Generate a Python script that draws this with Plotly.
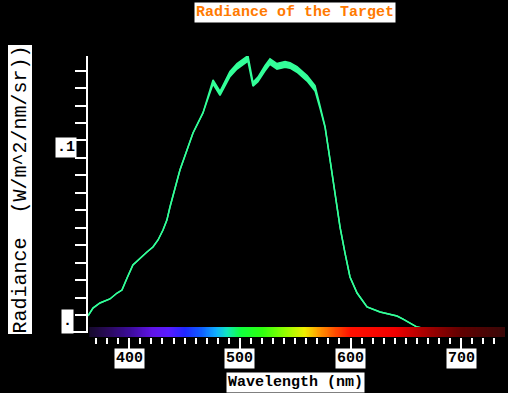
import numpy as np
import plotly.graph_objects as go

# ---- data ----
wavelength = [362.7, 367.2, 373.5, 382.5, 389.0, 393.4, 398.0, 403.3, 416.0, 421.4,
              426.0, 430.5, 434.0, 436.8, 445.8, 452.2, 457.6, 466.6, 470.5, 475.7,
              482.0, 491.0, 497.4, 502.8, 507.3, 511.8, 516.3, 522.6, 527.2, 533.5,
              540.8, 545.3, 551.6, 560.7, 567.9, 572.4, 577.0, 581.5, 586.0, 590.5,
              595.0, 599.5, 605.9, 614.9, 626.7, 635.7, 642.0, 647.5, 653.8, 660.1,
              669.2, 681.0, 692.7, 728.9]
radiance = [-0.0005, 0.0040, 0.0069, 0.0092, 0.0126, 0.0143, 0.0212, 0.0287, 0.0361, 0.0390,
            0.0430, 0.0487, 0.0544, 0.0619, 0.0831, 0.0946, 0.1043, 0.1158, 0.1230, 0.1335,
            0.1270, 0.1380, 0.1425, 0.1452, 0.1470, 0.1322, 0.1350, 0.1413, 0.1452, 0.1425,
            0.1436, 0.1430, 0.1407, 0.1356, 0.1299, 0.1192, 0.1077, 0.0888, 0.0699, 0.0504,
            0.0355, 0.0218, 0.0126, 0.0046, 0.0017, 0.0006, -0.0006, -0.0023, -0.0046, -0.0069,
            -0.0080, -0.0090, -0.0097, -0.0097]
spread = [0, 0, 0, 0, 0, 0, 0, 0, 0, 0,
          0, 0, 0, 0, 0, 0, 0, 0, 0.0005, 0.0012,
          0.0012, 0.0015, 0.0016, 0.0016, 0.0016, 0.0011, 0.0013, 0.0015, 0.0016, 0.0016,
          0.0016, 0.0016, 0.0016, 0.0016, 0.0015, 0.0008, 0.0003, 0, 0, 0,
          0, 0, 0, 0, 0, 0, 0, 0, 0, 0,
          0, 0, 0, 0]

x_ticks = [400, 500, 600, 700]
x_tick_labels = ["400", "500", "600", "700"]

spectrum_wl = [365, 380, 400, 420, 435, 450, 465, 478, 488, 500, 520, 540, 558, 570, 585, 600, 640, 670, 700, 740]
spectrum_col = ["#180a30", "#2a0a5a", "#3c0c9a", "#6014e6", "#5a1cff", "#2028ff", "#1060ff", "#10b0ff",
                "#10e8c0", "#10ff40", "#30ff10", "#90ff00", "#f0f000", "#ffa000", "#ff5000", "#ff1000",
                "#f00000", "#a00000", "#600000", "#380808"]

GREEN = "#33ff99"

lower = [r - s for r, s in zip(radiance, spread)]
upper = [r + s for r, s in zip(radiance, spread)]

fig = go.Figure()

# spectrum colour bar
lo, hi = spectrum_wl[0], spectrum_wl[-1]
cscale = [[(w - lo) / (hi - lo), c] for w, c in zip(spectrum_wl, spectrum_col)]
bar_x = np.linspace(364.5, 739.6, 300)
fig.add_trace(go.Heatmap(x=bar_x, y=[0.5], z=[list(bar_x)], colorscale=cscale,
                         zmin=lo, zmax=hi, showscale=False, zsmooth="best",
                         xaxis="x", yaxis="y2", hoverinfo="skip"))

fig.add_trace(go.Scatter(x=wavelength, y=lower, mode="lines",
                         line=dict(color=GREEN, width=1.5), showlegend=False))
fig.add_trace(go.Scatter(x=wavelength, y=upper, mode="lines", fill="tonexty",
                         fillcolor=GREEN, line=dict(color=GREEN, width=1.5), showlegend=False))

# plot area: left 88, right 505, top 56, bottom 337
L, R, T, B = 88, 505, 56, 337
W, H = 508, 393
pw, ph = R - L, B - T

def px(xp):
    return (xp - L) / pw

def py(yp):
    return (B - yp) / ph

fig.update_layout(
    width=W, height=H,
    margin=dict(l=L, r=W - R, t=T, b=H - B, pad=0),
    paper_bgcolor="black", plot_bgcolor="black",
    showlegend=False,
    xaxis=dict(range=[362.7, 739.6], anchor="free", position=0,
               showline=False, showgrid=False, zeroline=False,
               tickmode="array", tickvals=x_ticks, ticks="outside", ticklen=11,
               tickwidth=2, tickcolor="white", showticklabels=False,
               minor=dict(dtick=10, tick0=0, ticks="outside", ticklen=6,
                          tickwidth=2, tickcolor="white", showgrid=False)),
    yaxis=dict(domain=[(B - 333) / ph, 1], range=[-0.0103, 0.1484],
               showline=True, linecolor="white", linewidth=2,
               showgrid=False, zeroline=False,
               tickmode="array", tickvals=[-0.01, 0.1], ticks="outside", ticklen=15,
               tickwidth=2, tickcolor="white", showticklabels=False,
               minor=dict(dtick=0.01, tick0=0, ticks="outside", ticklen=11,
                          tickwidth=2, tickcolor="white", showgrid=False)),
    yaxis2=dict(domain=[0, 10 / ph], range=[0, 1], anchor="free", position=0,
                visible=False, showgrid=False),
)

mono = "Liberation Mono, Courier New, monospace"
C = dict(showarrow=False, bgcolor="white", xanchor="center", yanchor="middle")
ann = []
ann.append(dict(text="<b>Radiance of the Target</b>", x=px(295), y=py(12),
                xref="paper", yref="paper", borderpad=1,
                font=dict(family=mono, size=15, color="#ff7a00"), **C))
ann.append(dict(text="Radiance  (W/m^2/nm/sr))", x=px(19.5), y=py(190), textangle=-90,
                xref="paper", yref="paper", borderpad=0,
                font=dict(family=mono, size=20, color="black"), **C))
ann.append(dict(text="<b>Wavelength (nm)</b>", x=px(295), y=py(382),
                xref="paper", yref="paper", borderpad=1,
                font=dict(family=mono, size=15, color="black"), **C))
for v, t in zip(x_ticks, x_tick_labels):
    ann.append(dict(text="<b>" + t + "</b>", x=v, y=py(358.5), xref="x", yref="paper",
                    borderpad=1, font=dict(family=mono, size=15, color="black"), **C))
ann.append(dict(text="<b>.1</b>", x=px(65.5), y=py(147.5), xref="paper", yref="paper",
                borderpad=1, font=dict(family=mono, size=15, color="black"), **C))
ann.append(dict(text="<b>.</b>", x=px(67.5), y=py(321.5), xref="paper", yref="paper",
                height=21, borderpad=1, font=dict(family=mono, size=15, color="black"), **C))
fig.update_layout(annotations=ann)

fig.write_html("out.html")
